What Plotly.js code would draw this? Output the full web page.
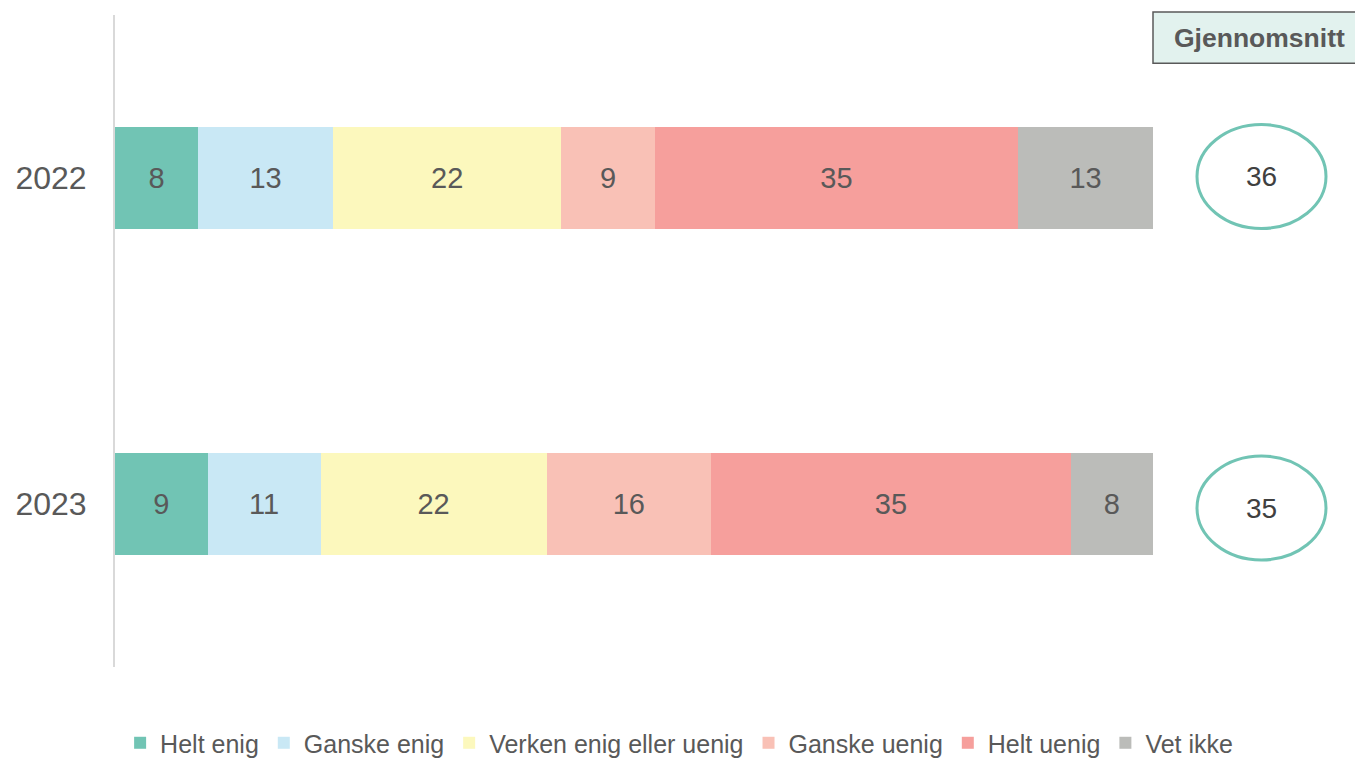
<!DOCTYPE html>
<html>
<head>
<meta charset="utf-8">
<script src="https://cdn.plot.ly/plotly-3.0.1.min.js"></script>
<style>html,body{margin:0;padding:0;background:#fff;}#chart{width:1355px;height:760px;}</style>
</head>
<body>
<div id="chart"></div>
<script>
const years = ["2022", "2023"];
const seriesNames = ["Helt enig", "Ganske enig", "Verken enig eller uenig", "Ganske uenig", "Helt uenig", "Vet ikke"];
const heltEnig = [8, 9];
const ganskeEnig = [13, 11];
const verken = [22, 22];
const ganskeUenig = [9, 16];
const heltUenig = [35, 35];
const vetIkke = [13, 8];
const averages = [36, 35];
const averageTitle = "Gjennomsnitt";

const seriesValues = [heltEnig, ganskeEnig, verken, ganskeUenig, heltUenig, vetIkke];
const colors = ["#71c4b4", "#c9e8f5", "#fcf8bd", "#f9c1b6", "#f69f9c", "#bbbcb9"];
const FONT = "Liberation Sans, Arial, sans-serif";

const traces = seriesNames.map((name, i) => ({
  type: "bar",
  orientation: "h",
  name: name,
  y: years,
  x: seriesValues[i],
  text: seriesValues[i].map(String),
  texttemplate: "%{text}",
  textposition: "inside",
  insidetextanchor: "middle",
  textangle: 0,
  constraintext: "none",
  insidetextfont: {family: FONT, size: 29, color: "#595959"},
  marker: {color: colors[i], line: {width: 0}},
  hoverinfo: "name+x"
}));

const shapes = [
  {type: "rect", xref: "paper", yref: "paper", x0: 1, x1: 1.21, y0: 0.926, y1: 1.0046,
   fillcolor: "#e2f2ee", line: {color: "#595959", width: 1.5}, layer: "above"}
];
const annotations = [
  {xref: "paper", yref: "paper", x: 1 + 106/1038, y: 0.965, xanchor: "center", yanchor: "middle",
   text: "<b>" + averageTitle + "</b>", showarrow: false,
   font: {family: FONT, size: 26.5, color: "#595959"}}
];
const yShifts = [1.5, -4];
years.forEach((yr, i) => {
  shapes.push({
    type: "circle", xref: "paper", yref: "y",
    xsizemode: "pixel", ysizemode: "pixel",
    xanchor: 1, yanchor: i,
    x0: 44, x1: 173, y0: -52 + yShifts[i], y1: 52 + yShifts[i],
    line: {color: "#71c4b4", width: 3}, fillcolor: "rgba(0,0,0,0)"
  });
  annotations.push({
    xref: "paper", yref: "y", x: 1 + 108/1038, y: i, xanchor: "center", yanchor: "middle",
    yshift: yShifts[i], text: String(averages[i]), showarrow: false,
    font: {family: FONT, size: 28, color: "#404040"}
  });
});

const layout = {
  width: 1355, height: 760,
  margin: {l: 115, r: 202, t: 15, b: 93, pad: 0, autoexpand: false},
  paper_bgcolor: "#ffffff", plot_bgcolor: "#ffffff",
  font: {family: FONT, color: "#595959"},
  barmode: "stack",
  barnorm: "percent",
  bargap: 0.687,
  showlegend: true,
  xaxis: {range: [0, 100], autorange: false, visible: false, fixedrange: true},
  yaxis: {
    type: "category", categoryorder: "array", categoryarray: years,
    range: [1.5, -0.5], autorange: false,
    showline: true, linecolor: "#d9d9d9", linewidth: 2, showgrid: false, zeroline: false,
    ticks: "", ticklabelstandoff: 20,
    tickfont: {family: FONT, size: 32, color: "#595959"}
  },
  legend: {
    orientation: "h", xref: "paper", yref: "paper", x: 1.082, xanchor: "right",
    y: -0.1166, yanchor: "middle", traceorder: "normal",
    font: {family: FONT, size: 25, color: "#595959"},
    itemwidth: 30, tracegroupgap: 0, borderwidth: 0
  },
  shapes: shapes,
  annotations: annotations
};

Plotly.newPlot("chart", traces, layout, {displayModeBar: false, staticPlot: true});
</script>
</body>
</html>
